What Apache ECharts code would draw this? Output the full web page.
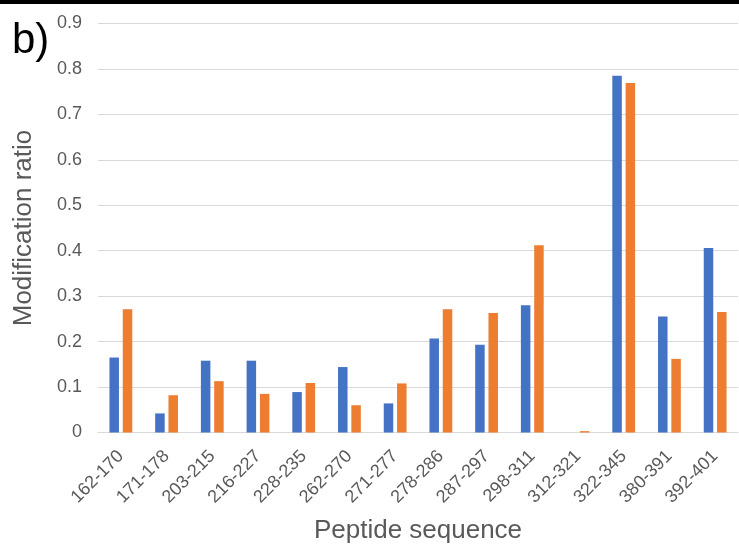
<!DOCTYPE html>
<html><head><meta charset="utf-8">
<script src="https://cdn.jsdelivr.net/npm/echarts@6/dist/echarts.min.js"></script>
<style>html,body{margin:0;padding:0;background:#fff}#c{width:739px;height:547px}</style>
</head><body><div id="c"></div>
<script>
const categories = ['162-170','171-178','203-215','216-227','228-235','262-270','271-277','278-286','287-297','298-311','312-321','322-345','380-391','392-401'];
const seriesA = [0.165,0.042,0.158,0.158,0.089,0.144,0.064,0.207,0.193,0.280,0,0.785,0.255,0.406];
const seriesB = [0.271,0.082,0.113,0.085,0.109,0.060,0.108,0.271,0.263,0.412,0.003,0.769,0.162,0.265];
const yTicks = [0,0.1,0.2,0.3,0.4,0.5,0.6,0.7,0.8,0.9];

const FONT = 'Liberation Sans, Arial, sans-serif';
const chart = echarts.init(document.getElementById('c'));
chart.setOption({
  animation:false,
  backgroundColor:'#fff',
  graphic:[
    {type:'rect',shape:{x:0,y:0,width:739,height:4},style:{fill:'#000'}},
    {type:'text',left:12,top:20,style:{text:'b)',fontSize:42,fill:'#000',fontFamily:FONT}}
  ],
  grid:{left:98,right:1,top:23.5,bottom:114.5,outerBoundsMode:'none'},
  xAxis:{
    type:'category',data:categories,
    axisLine:{lineStyle:{color:'#d9d9d9'}},
    axisTick:{show:false},
    axisLabel:{rotate:45,color:'#595959',fontSize:18,fontFamily:FONT,margin:21},
    name:'Peptide sequence',nameLocation:'middle',nameGap:85,
    nameTextStyle:{color:'#595959',fontSize:26,fontFamily:FONT}
  },
  yAxis:{
    type:'value',min:0,max:0.9,interval:0.1,
    axisLine:{show:false},axisTick:{show:false},
    splitLine:{lineStyle:{color:'#d9d9d9'}},
    axisLabel:{color:'#595959',fontSize:18,fontFamily:FONT,margin:16,
      formatter:v=>{const t=yTicks.find(x=>Math.abs(x-v)<1e-6);return t===0?'0':String(t);}},
    name:'Modification ratio',nameLocation:'middle',nameGap:61,
    nameTextStyle:{color:'#595959',fontSize:26,fontFamily:FONT}
  },
  series:[
    {type:'bar',data:seriesA,barWidth:9.5,barGap:'40%',itemStyle:{color:'#4472C4'}},
    {type:'bar',data:seriesB,barWidth:9.5,barGap:'40%',itemStyle:{color:'#ED7D31'}}
  ]
});
</script></body></html>
